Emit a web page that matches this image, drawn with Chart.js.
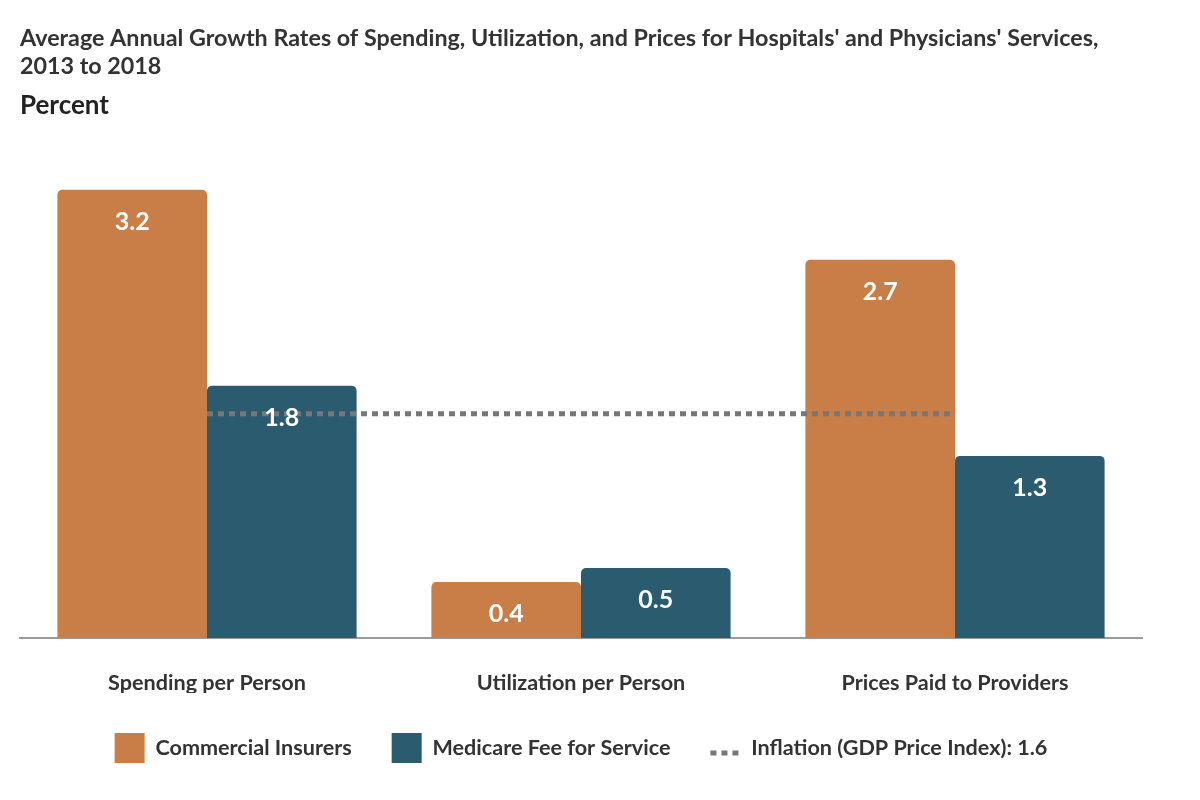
<!DOCTYPE html>
<html>
<head>
<meta charset="utf-8">
<script src="https://cdn.jsdelivr.net/npm/chart.js@4/dist/chart.umd.min.js"></script>
<style>
  html, body { margin: 0; padding: 0; background: #fff; }
  #wrap { width: 1200px; height: 800px; }
</style>
</head>
<body>
<div id="wrap"><canvas id="growthChart" width="1200" height="800"></canvas></div>
<script>
// 데이터
const categories = ["Spending per Person", "Utilization per Person", "Prices Paid to Providers"];
const commercialInsurers = [3.2, 0.4, 2.7];
const medicareFFS = [1.8, 0.5, 1.3];
const inflation = [1.6, 1.6, 1.6];

const FONT = "Lato";
const TEXT = "#333333";

// 막대 안쪽 값 표시
const valueLabels = {
    id: "valueLabels",
    afterDatasetsDraw(chart) {
        const ctx = chart.ctx;
        ctx.save();
        ctx.fillStyle = "#ffffff";
        ctx.font = "bold 25px " + FONT;
        ctx.textAlign = "center";
        ctx.textBaseline = "middle";
        chart.data.datasets.forEach((ds, i) => {
            if (ds.type === "line") return;
            chart.getDatasetMeta(i).data.forEach((bar, j) => {
                ctx.fillText(ds.data[j].toFixed(1), bar.x, bar.y + 32);
            });
        });
        ctx.restore();
    }
};

// 범례의 점선 표시
const dottedLegend = {
    id: "dottedLegend",
    afterDraw(chart) {
        const box = chart.legend.legendHitBoxes[2];
        if (!box) return;
        const ctx = chart.ctx;
        const y = box.top + 20;
        ctx.save();
        ctx.strokeStyle = "#777777";
        ctx.lineWidth = 5;
        ctx.setLineDash([6, 5]);
        ctx.beginPath();
        ctx.moveTo(box.left, y);
        ctx.lineTo(box.left + 28, y);
        ctx.stroke();
        ctx.restore();
    }
};

const ctx = document.getElementById("growthChart").getContext("2d");
new Chart(ctx, {
    data: {
        labels: categories,
        datasets: [
            {
                type: "line",
                label: "Inflation (GDP Price Index): 1.6",
                data: inflation,
                borderColor: "#777777",
                backgroundColor: "rgba(0,0,0,0)",
                borderWidth: 5,
                borderDash: [6, 5],
                pointRadius: 0,
                order: 0
            },
            {
                type: "bar",
                label: "Commercial Insurers",
                data: commercialInsurers,
                backgroundColor: "#C97E47",
                borderRadius: { topLeft: 5, topRight: 5 },
                borderSkipped: "start",
                categoryPercentage: 0.8,
                barPercentage: 1.0,
                order: 1
            },
            {
                type: "bar",
                label: "Medicare Fee for Service",
                data: medicareFFS,
                backgroundColor: "#2B5B6F",
                borderRadius: { topLeft: 5, topRight: 5 },
                borderSkipped: "start",
                categoryPercentage: 0.8,
                barPercentage: 1.0,
                order: 1
            }
        ]
    },
    options: {
        responsive: false,
        animation: false,
        layout: { padding: { left: 20, right: 58, top: 0, bottom: 27 } },
        plugins: {
            title: {
                display: true,
                align: "start",
                text: ["Average Annual Growth Rates of Spending, Utilization, and Prices for Hospitals' and Physicians' Services,", "2013 to 2018"],
                color: TEXT,
                font: { family: FONT, size: 23.3, weight: "bold", lineHeight: 1.18 },
                padding: { top: 25, bottom: 4 }
            },
            subtitle: {
                display: true,
                align: "start",
                text: "Percent",
                color: "#222222",
                font: { family: FONT, size: 26, weight: "bold", lineHeight: 1.2 },
                padding: { top: 6, bottom: 26.5 }
            },
            legend: {
                position: "bottom",
                labels: {
                    color: TEXT,
                    font: { family: FONT, size: 21.6, weight: "bold" },
                    boxWidth: 30,
                    boxHeight: 30,
                    padding: 40,
                    sort: (a, b) => {
                        const rank = [2, 0, 1];
                        return rank[a.datasetIndex] - rank[b.datasetIndex];
                    },
                    generateLabels(chart) {
                        const items = Chart.defaults.plugins.legend.labels.generateLabels(chart);
                        items.forEach(it => {
                            it.lineWidth = 0;
                            it.lineDash = [];
                            if (it.datasetIndex === 0) it.fillStyle = "rgba(0,0,0,0)";
                        });
                        return items;
                    }
                }
            },
            tooltip: { enabled: false }
        },
        scales: {
            x: {
                grid: { display: false, drawTicks: false },
                border: { display: true, color: "#9b9b9b", width: 2 },
                ticks: {
                    color: TEXT,
                    padding: 32,
                    font: { family: FONT, size: 21.6, weight: "bold" }
                },
                afterFit(scale) { scale.height = 55; }
            },
            y: {
                display: false,
                min: 0,
                max: 3.5
            }
        }
    },
    plugins: [valueLabels, dottedLegend]
});
</script>
</body>
</html>
